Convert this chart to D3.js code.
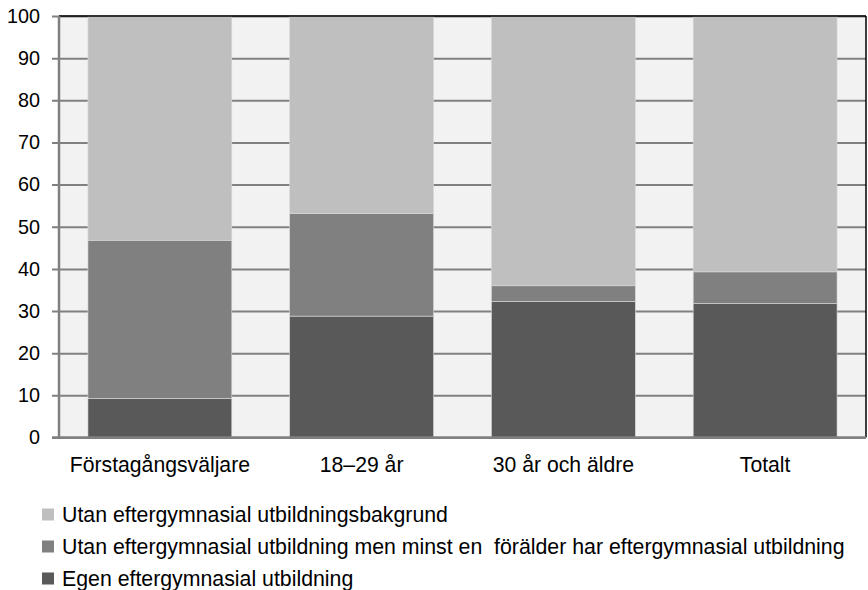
<!DOCTYPE html>
<html><head><meta charset="utf-8">
<script src="https://cdn.jsdelivr.net/npm/d3@7"></script>
<style>body{margin:0;background:#fff}svg{display:block;font-family:Arial,"Liberation Sans",sans-serif}</style>
</head><body><svg id="c" width="868" height="590"></svg>
<script>
const categories = ["Förstagångsväljare", "18–29 år", "30 år och äldre", "Totalt"];
const seriesNames = ["Egen eftergymnasial utbildning", "Utan eftergymnasial utbildning men minst en  förälder har eftergymnasial utbildning", "Utan eftergymnasial utbildningsbakgrund"];
const egen = [9.3, 28.8, 32.3, 31.8];
const foralder = [37.5, 24.3, 3.7, 7.5];
const utan = [53.2, 46.9, 64.0, 60.7];
const yTicks = [0,10,20,30,40,50,60,70,80,90,100];
const colors = ["#595959", "#808080", "#bfbfbf"];

const svg = d3.select("#c");
const m = {l:59, r:866, t:16, b:437.5};
const x = d3.scaleBand().domain(categories).range([m.l, m.r]).paddingInner(0.287).paddingOuter(0.1435);
const y = d3.scaleLinear().domain([0,100]).range([m.b, m.t]);

svg.append("rect").attr("x", m.l).attr("y", m.t).attr("width", m.r-m.l).attr("height", m.b-m.t).attr("fill", "#f2f2f2");

const ax = svg.append("g").attr("transform", `translate(${m.l},0)`)
  .call(d3.axisLeft(y).tickValues(yTicks).tickSize(-(m.r-m.l)).tickSizeOuter(0).tickPadding(19));
ax.select(".domain").remove();
ax.selectAll(".tick line").attr("x1", -7).attr("stroke", "#808080").attr("stroke-width", 2);
ax.selectAll(".tick text").attr("font-size", 19.8).attr("fill", "#000").attr("font-family", "Arial, 'Liberation Sans', sans-serif");

const rows = categories.map((c,i) => ({cat:c, s0:egen[i], s1:foralder[i], s2:utan[i]}));
const stack = d3.stack().keys(["s0","s1","s2"])(rows);
svg.append("g").selectAll("g").data(stack).join("g").attr("fill", (d,i)=>colors[i])
  .selectAll("rect").data(d=>d).join("rect")
  .attr("x", d=>x(d.data.cat)).attr("width", x.bandwidth())
  .attr("y", d=>y(Math.min(100,d[1]))).attr("height", d=>y(d[0])-y(Math.min(100,d[1])))
  .attr("stroke", "#d9d9d9").attr("stroke-width", 0.6);

svg.append("line").attr("x1", m.l).attr("x2", m.r).attr("y1", m.t).attr("y2", m.t).attr("stroke", "#000").attr("stroke-width", 1.5);
svg.append("line").attr("x1", m.r).attr("x2", m.r).attr("y1", m.t).attr("y2", m.b).attr("stroke", "#000").attr("stroke-width", 1.5);
svg.append("line").attr("x1", m.l).attr("x2", m.l).attr("y1", m.t).attr("y2", m.b+1).attr("stroke", "#808080").attr("stroke-width", 2.5);
svg.append("line").attr("x1", m.l-7).attr("x2", m.r).attr("y1", m.b).attr("y2", m.b).attr("stroke", "#808080").attr("stroke-width", 2.5);

const xa = svg.append("g").attr("transform", `translate(0,${m.b})`).call(d3.axisBottom(x).tickSize(0).tickPadding(19));
xa.select(".domain").remove();
xa.selectAll(".tick text").attr("font-size", 21.2).attr("fill", "#000").attr("font-family", "Arial, 'Liberation Sans', sans-serif");

const legendOrder = [2,1,0];
const lg = svg.append("g").selectAll("g").data(legendOrder).join("g")
  .attr("transform", (d,i)=>`translate(42,${514.5 + i*32})`);
lg.append("rect").attr("x",0).attr("y",-6).attr("width",12).attr("height",12).attr("fill", d=>colors[d]);
lg.append("text").attr("x",20).attr("y",0).attr("dy","0.35em").attr("font-size",21.3).attr("fill","#000")
  .style("white-space","pre").attr("xml:space","preserve").text(d=>seriesNames[d]);
</script></body></html>
